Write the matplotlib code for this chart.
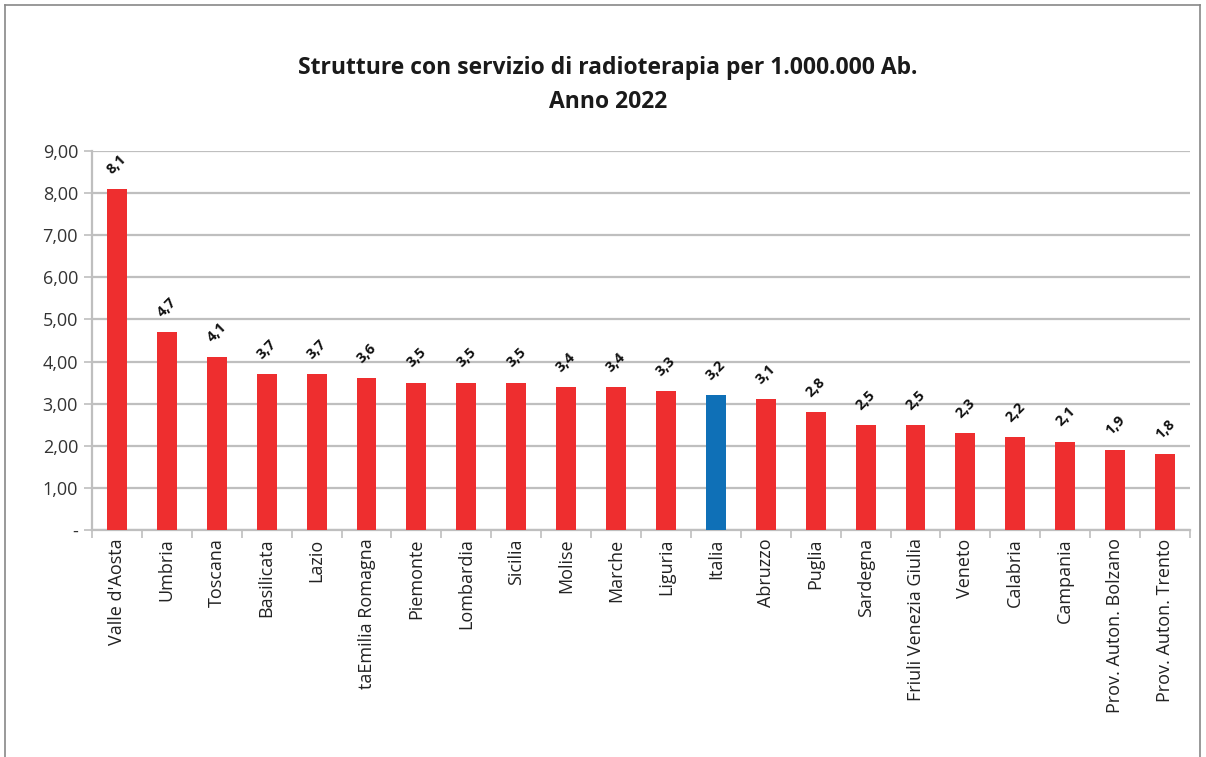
import numpy as np
import matplotlib
matplotlib.use('Agg')
from matplotlib import pyplot as plt
from matplotlib.lines import Line2D

plt.rcParams['font.family'] = ['Open Sans', 'DejaVu Sans']

regioni = ["Valle d'Aosta", 'Umbria', 'Toscana', 'Basilicata', 'Lazio',
           'taEmilia Romagna', 'Piemonte', 'Lombardia', 'Sicilia', 'Molise',
           'Marche', 'Liguria', 'Italia', 'Abruzzo', 'Puglia', 'Sardegna',
           'Friuli Venezia Giulia', 'Veneto', 'Calabria', 'Campania',
           'Prov. Auton. Bolzano', 'Prov. Auton. Trento']
valori = [8.1, 4.7, 4.1, 3.7, 3.7, 3.6, 3.5, 3.5, 3.5, 3.4, 3.4, 3.3,
          3.2, 3.1, 2.8, 2.5, 2.5, 2.3, 2.2, 2.1, 1.9, 1.8]
y_ticks = [0, 1, 2, 3, 4, 5, 6, 7, 8, 9]
y_labels = ['-', '1,00', '2,00', '3,00', '4,00', '5,00', '6,00', '7,00', '8,00', '9,00']

ROSSO = '#ee2e2f'
BLU = '#0f70b7'
GRIGIO = '#bfbfbf'

fig = plt.figure(figsize=(12.06, 7.57), dpi=100)
ax = fig.add_axes([92/1206, 1 - 530/757, (1190 - 92)/1206, (530 - 151)/757])

x = np.arange(len(regioni))
colori = [BLU if r == 'Italia' else ROSSO for r in regioni]
ax.bar(x, valori, width=0.4, color=colori, zorder=3)

# etichette dei valori, ruotate
for xi, v in zip(x, valori):
    ax.annotate(('%.1f' % v).replace('.', ','), (xi, v), xytext=(0, 9),
                textcoords='offset points', rotation=45, ha='center', va='bottom',
                fontsize=10.5, fontweight='bold', color='#111111')

ax.set_xlim(-0.5, len(regioni) - 0.5)
ax.set_ylim(0, 9)
ax.set_yticks(y_ticks)
ax.set_yticklabels(y_labels, fontsize=13, color='#333333')
ax.set_xticks(x)
ax.set_xticklabels(regioni, rotation=90, fontsize=13, color='#222222')
ax.tick_params(axis='x', length=0, pad=6)
ax.set_xticks(np.arange(len(regioni) + 1) - 0.5, minor=True)
ax.tick_params(axis='x', which='minor', length=6, color=GRIGIO, width=1.2)
ax.tick_params(axis='y', length=6, color=GRIGIO, width=1.2, pad=4)

ax.grid(axis='y', color=GRIGIO, linewidth=1.6, zorder=0)
for s in ['top', 'right']:
    ax.spines[s].set_visible(False)
for s in ['left', 'bottom']:
    ax.spines[s].set_color(GRIGIO)
    ax.spines[s].set_linewidth(1.6)

fig.text(608/1206, 1 - 68/757, 'Strutture con servizio di radioterapia per 1.000.000 Ab.',
         ha='center', va='center', fontsize=16.5, fontweight='bold', color='#1a1a1a')
fig.text(608/1206, 1 - 102/757, 'Anno 2022',
         ha='center', va='center', fontsize=16.5, fontweight='bold', color='#1a1a1a')

# cornice dell'area del grafico
bordo = dict(color='#888888', linewidth=1.2, transform=fig.transFigure)
fig.add_artist(Line2D([5/1206, 5/1206], [0, 1 - 5/757], **bordo))
fig.add_artist(Line2D([5/1206, 1200/1206], [1 - 5/757, 1 - 5/757], **bordo))
fig.add_artist(Line2D([1200/1206, 1200/1206], [0, 1 - 5/757], **bordo))

fig.savefig('out.png', dpi=100)
